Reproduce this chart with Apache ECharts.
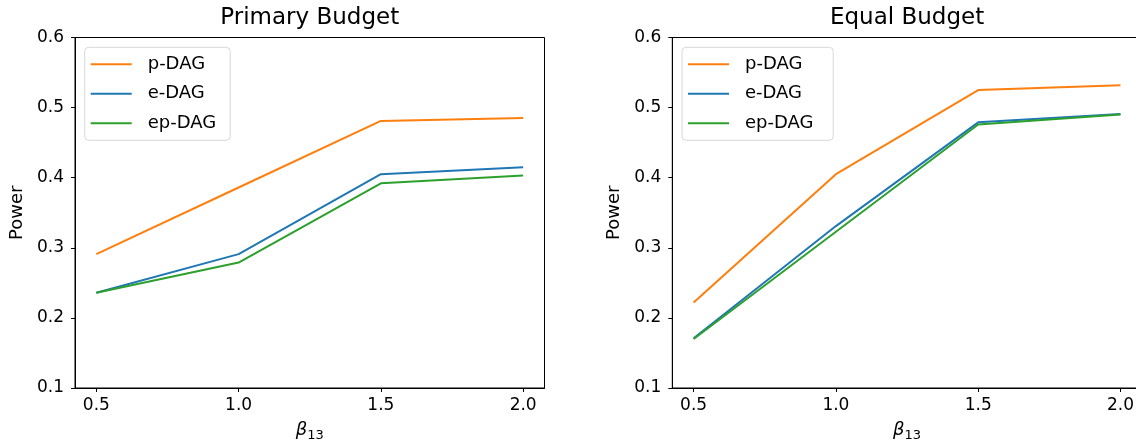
<!DOCTYPE html>
<html><head><meta charset="utf-8">
<script src="https://cdn.jsdelivr.net/npm/echarts@6/dist/echarts.min.js"></script>
<style>html,body{margin:0;padding:0;background:#fff}#c{width:1136px;height:444px}</style>
</head><body><div id="c"></div>
<script>
const betas = [0.5, 1.0, 1.5, 2.0];
const yTicks = [0.1, 0.2, 0.3, 0.4, 0.5, 0.6];
const titles = ['Primary Budget', 'Equal Budget'];
const seriesNames = ['p-DAG', 'e-DAG', 'ep-DAG'];
const colors = ['#ff7f0e', '#1f77b4', '#2ca02c'];
const primaryP = [0.291, 0.386, 0.481, 0.485];
const primaryE = [0.236, 0.291, 0.405, 0.415];
const primaryEP = [0.236, 0.279, 0.392, 0.403];
const equalP = [0.222, 0.405, 0.525, 0.532];
const equalE = [0.171, 0.331, 0.479, 0.491];
const equalEP = [0.170, 0.323, 0.476, 0.490];

const FONT = 'DejaVu Sans';
const chart = echarts.init(document.getElementById('c'));
const grids = [
  {left: 75, top: 37.5, width: 469.5, height: 350.5},
  {left: 672.3, top: 37.5, width: 469.5, height: 350.5}
];
const panels = [[primaryP, primaryE, primaryEP], [equalP, equalE, equalEP]];
const option = {
  animation: false,
  backgroundColor: '#fff',
  title: titles.map((t, i) => ({
    text: t, left: grids[i].left + grids[i].width / 2, top: 7, textAlign: 'center', padding: 0,
    textStyle: {fontFamily: FONT, fontSize: 23, fontWeight: 'normal', color: '#000'}
  })),
  grid: grids.map(g => Object.assign({show: true, borderColor: '#000', borderWidth: 1,
    containLabel: false, outerBoundsMode: 'none'}, g)),
  legend: grids.map((g, i) => ({
    data: seriesNames.map(n => n + (i ? ' ' : '')),
    left: g.left + 9.7, top: 47.3,
    orient: 'vertical', icon: 'rect', itemWidth: 41, itemHeight: 2, itemGap: 11.5,
    padding: [8, 14, 8, 6],
    borderColor: '#d8d8d8', borderWidth: 1, borderRadius: 4, backgroundColor: 'rgba(255,255,255,0.8)',
    textStyle: {fontFamily: FONT, fontSize: 18, color: '#000', padding: [0, 0, 0, 11]}
  })),
  xAxis: grids.map((g, i) => ({
    type: 'value', gridIndex: i, min: 0.425, max: 2.075,
    interval: 0.5,
    name: '{b|β}{s|13}', nameLocation: 'middle', nameGap: 31,
    nameTextStyle: {rich: {
      b: {fontFamily: FONT, fontStyle: 'italic', fontSize: 18, color: '#000'},
      s: {fontFamily: FONT, fontSize: 13, color: '#000', verticalAlign: 'bottom', padding: [10, 0, 0, 0]}
    }},
    axisLine: {show: true, onZero: false, lineStyle: {color: '#000'}},
    axisTick: {show: true, length: 4, lineStyle: {color: '#000'},
      customValues: betas},
    axisLabel: {fontFamily: FONT, fontSize: 17, color: '#000', margin: 9,
      customValues: betas, formatter: v => v.toFixed(1)},
    splitLine: {show: false}
  })),
  yAxis: grids.map((g, i) => ({
    type: 'value', gridIndex: i, min: 0.1, max: 0.6, interval: 0.1,
    name: 'Power', nameLocation: 'middle', nameGap: 49,
    nameTextStyle: {fontFamily: FONT, fontSize: 18, color: '#000'},
    axisLine: {show: true, lineStyle: {color: '#000'}},
    axisTick: {show: true, length: 4, lineStyle: {color: '#000'}},
    axisLabel: {fontFamily: FONT, fontSize: 17, color: '#000', margin: 11,
      formatter: v => v.toFixed(1)},
    splitLine: {show: false}
  })),
  series: []
};
panels.forEach((arrs, i) => {
  arrs.forEach((vals, k) => {
    option.series.push({
      name: seriesNames[k] + (i ? ' ' : ''), type: 'line', xAxisIndex: i, yAxisIndex: i,
      data: betas.map((b, j) => [b, vals[j]]),
      showSymbol: false, symbol: 'none', color: colors[k],
      lineStyle: {width: 2, color: colors[k]}
    });
  });
});
chart.setOption(option);
</script></body></html>
